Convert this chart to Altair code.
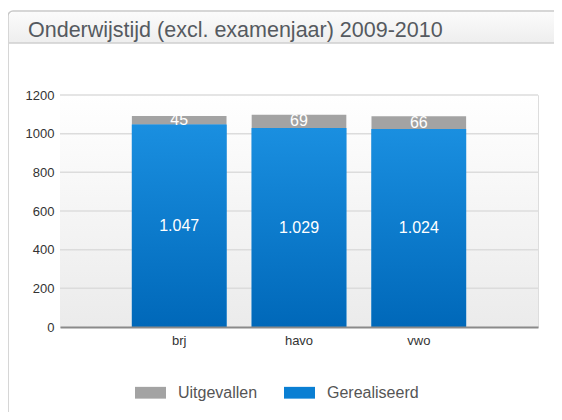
import altair as alt
import pandas as pd

TITLE = "Onderwijstijd (excl. examenjaar) 2009-2010"
categories = ["brj", "havo", "vwo"]
gerealiseerd = [1047, 1029, 1024]
uitgevallen = [45, 69, 66]
series = ["Uitgevallen", "Gerealiseerd"]
series_colors = ["#a3a3a3", "#0a7fd3"]
y_ticks = [0, 200, 400, 600, 800, 1000, 1200]

FONT = "Liberation Sans"

rows = []
for c, g, u in zip(categories, gerealiseerd, uitgevallen):
    rows.append({"cat": c, "series": "Gerealiseerd", "value": g, "ord": 0})
    rows.append({"cat": c, "series": "Uitgevallen", "value": u, "ord": 1})
df = pd.DataFrame(rows)
one = pd.DataFrame({"t": [TITLE]})
ticks_df = pd.DataFrame({"value": y_ticks[1:]})

W, H = 478, 232

xaxis = alt.Axis(title=None, labelAngle=0, ticks=False, domainColor="#8a8a8a",
                 domainWidth=2, labelFontSize=13, labelColor="#333333",
                 labelFont=FONT, labelPadding=7, zindex=1)
xscale = alt.Scale(paddingInner=0.21, paddingOuter=0.6)
xenc = alt.X("cat:N", sort=categories, scale=xscale, axis=xaxis)
yaxis = alt.Axis(title=None, values=y_ticks, tickCount=7, format="d", labelOverlap=False,
                 domain=False, ticks=False, grid=False,
                 labelFontSize=13, labelColor="#333333", labelFont=FONT, labelPadding=6)
yscale = alt.Scale(domain=[0, 1200], nice=False)

frame = alt.Chart(one).mark_rect(fill=None, stroke="#c9c9c9", strokeWidth=1.5,
                                 cornerRadius=5, clip=False).encode(
    x=alt.value(-52), x2=alt.value(520), y=alt.value(-84), y2=alt.value(400))

header = alt.Chart(one).mark_rect(
    fill=alt.Gradient(gradient="linear", x1=0, x2=0, y1=0, y2=1,
                      stops=[alt.GradientStop(color="#fbfbfb", offset=0),
                             alt.GradientStop(color="#eeeeee", offset=1)]),
    cornerRadiusTopLeft=5, clip=False).encode(
    x=alt.value(-51), x2=alt.value(520), y=alt.value(-83), y2=alt.value(-52))

header_line = alt.Chart(one).mark_rule(color="#cfcfcf", strokeWidth=1.5, clip=False).encode(
    x=alt.value(-51), x2=alt.value(520), y=alt.value(-52))

title = alt.Chart(one).mark_text(align="left", baseline="alphabetic", font=FONT,
                                 fontSize=21.5, color="#555a60", clip=False).encode(
    x=alt.value(-32), y=alt.value(-58), text="t:N")

plotbg = alt.Chart(one).mark_rect(
    fill=alt.Gradient(gradient="linear", x1=0, x2=0, y1=0, y2=1,
                      stops=[alt.GradientStop(color="#ffffff", offset=0),
                             alt.GradientStop(color="#ebebeb", offset=1)])).encode(
    x=alt.value(0), x2=alt.value(W), y=alt.value(0), y2=alt.value(H))

grid = alt.Chart(ticks_df).mark_rule(color="#dcdcdc", strokeWidth=1.5).encode(
    y=alt.Y("value:Q", scale=yscale, axis=yaxis), x=alt.value(0), x2=alt.value(W))

bars = alt.Chart(df).mark_bar().encode(
    x=xenc,
    y=alt.Y("value:Q", stack="zero", scale=yscale, axis=yaxis),
    color=alt.Color("series:N",
                    scale=alt.Scale(domain=series, range=series_colors),
                    legend=alt.Legend(title=None, orient="none", legendX=75, legendY=282,
                                      direction="horizontal",
                                      symbolType="M-1,-0.38H1V0.38H-1Z",
                                      symbolSize=961, symbolStrokeWidth=0,
                                      labelFontSize=16, labelFont=FONT,
                                      labelColor="#555555", labelOffset=12,
                                      columnPadding=26, padding=0)),
    order=alt.Order("ord:Q"),
)

blue = alt.Chart(df).transform_filter(alt.datum.series == "Gerealiseerd").mark_bar(
    color=alt.Gradient(gradient="linear", x1=0, x2=0, y1=0, y2=1,
                       stops=[alt.GradientStop(color="#1a8fe0", offset=0),
                              alt.GradientStop(color="#0068b9", offset=1)])).encode(
    x=xenc, y=alt.Y("value:Q", scale=yscale, axis=yaxis))

labels = alt.Chart(df).transform_stack(
    stack="value", groupby=["cat"], as_=["y0", "y1"], sort=[alt.SortField("ord")]
).transform_calculate(
    mid="(datum.y0 + datum.y1) / 2",
    lab="replace(format(datum.value, ','), ',', '.')"
).mark_text(color="white", fontSize=16, font=FONT, baseline="middle").encode(
    x=xenc, y=alt.Y("mid:Q", scale=yscale, axis=yaxis), text="lab:N")

chart = alt.layer(frame, header, header_line, title, plotbg, grid, bars, blue, labels).properties(
    width=W, height=H,
    autosize=alt.AutoSizeParams(type="none"),
    padding={"left": 52, "top": 87, "right": 16, "bottom": 85},
).configure_view(stroke=None).configure_axis(labelOverlap=False).configure(background="white")

chart.save("out.html", embed_options={"renderer": "svg", "actions": False})
